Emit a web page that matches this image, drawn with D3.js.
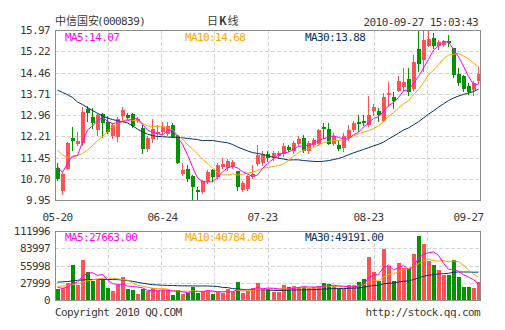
<!DOCTYPE html>
<html><head><meta charset="utf-8">
<script src="https://cdn.jsdelivr.net/npm/d3@7/dist/d3.min.js"></script>
<style>body{margin:0;background:#fff}svg{display:block}</style>
</head><body><svg id="c" width="505" height="330"></svg>
<script>
// ---- data ----
const opens  = [11.08,10.26,11.06,12.15,11.93,11.97,13.17,12.88,12.44,13.00,
12.71,12.20,12.17,12.91,12.95,12.98,12.75,12.51,11.75,12.10,
12.29,12.35,12.30,12.62,12.20,10.88,11.06,10.79,10.29,10.23,
10.59,11.00,10.76,11.13,11.08,11.17,10.96,10.29,10.35,10.76,
11.22,11.26,11.59,11.44,11.50,11.58,11.83,11.70,11.93,12.15,
11.67,11.91,11.93,12.52,12.48,11.93,11.91,11.79,12.15,12.44,
12.70,12.76,12.59,13.09,13.09,12.76,13.68,13.60,13.82,13.94,
14.23,13.89,15.31,14.92,15.39,15.69,15.39,15.45,15.57,15.33,
14.41,14.35,14.00,13.86,14.18];
const highs  = [11.27,10.90,12.00,12.54,12.37,13.24,13.27,13.21,13.03,13.03,
12.91,12.68,12.88,13.23,13.03,13.04,12.88,12.60,12.20,12.82,
12.62,12.72,12.70,12.68,12.26,11.26,11.20,10.85,10.40,10.67,
11.02,11.06,11.26,11.44,11.40,11.38,10.96,10.61,10.85,11.20,
11.89,11.67,11.67,11.67,11.70,11.97,11.91,12.03,12.20,12.24,
12.03,12.15,12.48,12.68,12.68,12.33,12.03,12.33,12.59,12.76,
12.95,12.95,13.62,13.34,13.21,13.74,14.13,13.78,14.33,14.62,
14.62,15.10,15.92,15.95,15.97,15.86,15.63,15.63,15.80,15.33,
14.63,14.39,14.09,14.15,14.65];
const lows   = [10.67,10.17,11.04,11.73,11.90,11.89,12.76,12.50,12.26,12.17,
12.32,12.14,12.03,12.79,12.83,12.53,12.70,11.60,11.68,12.02,
12.10,12.29,12.25,12.17,11.27,10.85,10.61,9.96,9.99,10.20,
10.55,10.61,10.73,11.08,11.02,11.10,10.32,10.26,10.32,10.73,
11.20,11.20,11.32,11.38,11.44,11.50,11.67,11.62,11.88,11.65,
11.62,11.85,11.88,12.15,11.93,11.88,11.73,11.68,12.09,12.40,
12.38,12.59,12.56,12.95,12.76,12.74,13.27,13.21,13.80,13.86,
13.68,13.86,14.51,14.51,15.39,15.33,15.31,15.39,15.39,14.29,
14.03,13.80,13.72,13.68,14.09];
const closes = [10.70,10.87,11.97,12.05,12.04,13.07,13.03,12.66,12.95,12.68,
12.36,12.62,12.83,13.15,12.85,12.58,12.82,11.75,12.13,12.45,
12.37,12.54,12.58,12.19,11.27,11.02,10.71,10.40,10.24,10.64,
10.94,10.76,11.18,11.22,11.32,11.28,10.41,10.55,10.79,10.88,
11.53,11.58,11.44,11.61,11.61,11.85,11.71,11.97,12.12,11.67,
11.97,12.06,12.44,12.47,11.93,12.21,11.77,12.21,12.44,12.68,
12.65,12.68,12.95,13.24,12.95,13.60,13.73,13.47,14.15,14.13,
13.76,14.84,14.77,15.63,15.65,15.42,15.55,15.57,15.51,14.39,
14.09,13.88,13.76,14.09,14.42];
const volumes = [18300,18800,26900,56500,24200,65100,45200,30700,33400,34500,
19900,14500,23700,37100,18300,16200,9200,18300,14000,19400,
14500,15600,15600,8100,16200,10200,10800,21500,11300,14500,
16200,9700,14000,11800,17200,12400,29100,11300,15100,18800,
27500,18300,17200,13500,13500,23700,21000,22600,21000,21000,
19900,21000,22600,28000,25300,22600,17200,18300,23700,23700,
29100,33400,69500,45800,30700,82900,54900,30700,60300,52200,
50600,74800,103400,91000,63500,56500,47900,39800,40400,65700,
38000,21000,21000,19500,30000];
// moving-average values before enough days are on the chart
const ma5Head  = [11.13,10.92,11.25,11.50];
const ma10Head = [11.72,11.55,11.46,11.46,11.52,11.60,11.72,11.88,12.05];
const ma30Head = [13.84,13.76,13.68,13.58,13.42,13.33,13.22,13.12,13.02,12.93,12.85,12.80,12.76,12.72,12.68,12.58,12.46,12.36,12.28,12.23,12.20,12.19,12.18,12.17,12.17,12.15,12.13,12.11,12.09];
const vma5Head  = [20500,19000,21000,27000];
const vma10Head = [22500,22500,23000,25000,26500,29000,31000,32500,34000];
const vma30Head = [29000,29500,30000,31000,32000,32500,33000,33300,33500,33500,33400,33200,33000,32500,31500,30300,28800,27300,26000,25000,24400,24000,23700,23500,23200,23000,22900,22800,22800];

const priceTicks = ["15.97","15.22","14.46","13.71","12.96","12.21","11.45","10.70","9.95"];
const volTicks = ["111996","83997","55998","27999","0"];
const dateLabels = ["05-20","06-24","07-23","08-23","09-27"];
const dateIdx = [0,21,41,62,82];
const priceLegend = ["MA5:14.07","MA10:14.68","MA30:13.88"];
const volLegend = ["MA5:27663.00","MA10:40784.00","MA30:49191.00"];
const title = "中信国安";
const code = "(000839)";
const chartName = ["日","K","线"];
const stamp = "2010-09-27 15:03:43";
const copyright = "Copyright 2010 QQ.COM";
const site = "http://stock.qq.com";

// ---- drawing ----
const RED="#ff5252", GREEN="#009400", C5="#ff00ff", C10="#ffa500", C30="#003366";
const MONO="'DejaVu Sans Mono', monospace", CJK="'Noto Sans CJK SC', sans-serif";
const svg = d3.select("#c");
const n = closes.length;
const L=55, R=480, PT=30, PB=200, VT=231, VB=300;

function ma(arr, k, head){ return arr.map((v,i)=> i < head.length ? head[i] : d3.mean(arr.slice(i-k+1,i+1))); }

const x = d3.scaleBand().domain(d3.range(n)).range([L+1, R+1]).paddingInner(0.2).paddingOuter(0);
const cx = i => Math.round(x(i)) + 1.5;
const yP = d3.scaleLinear().domain([+priceTicks[8], +priceTicks[0]]).range([PB, PT]);
const yV = d3.scaleLinear().domain([0, +volTicks[0]]).range([VB, VT]);

const g = svg.append("g");
// grid
const nCols = 8;
const gx = d3.scaleLinear().domain([0,nCols]).range([L,R]);
[[PT,PB],[VT,VB]].forEach(([t,b])=>{
  for(let k=1;k<nCols;k++){
    g.append("line").attr("x1",Math.round(gx(k))+0.5).attr("x2",Math.round(gx(k))+0.5)
     .attr("y1",t).attr("y2",b).attr("stroke","#d4d4d4").attr("stroke-dasharray","4,2");
  }
});
priceTicks.forEach((t,i)=>{
  if(i>0 && i<priceTicks.length-1)
    g.append("line").attr("x1",L).attr("x2",R).attr("y1",Math.round(yP(+t))+0.5).attr("y2",Math.round(yP(+t))+0.5)
     .attr("stroke","#d4d4d4").attr("stroke-dasharray","4,2");
});
volTicks.forEach((t,i)=>{
  if(i>0 && i<volTicks.length-1)
    g.append("line").attr("x1",L).attr("x2",R).attr("y1",Math.round(yV(+t))+0.5).attr("y2",Math.round(yV(+t))+0.5)
     .attr("stroke","#d4d4d4").attr("stroke-dasharray","4,2");
});

// candles
const idx = d3.range(n);
const col = i => closes[i] >= opens[i] ? RED : GREEN;
g.selectAll(".wick").data(idx).join("line")
  .attr("x1",cx).attr("x2",cx)
  .attr("y1",i=>Math.round(yP(highs[i]))).attr("y2",i=>Math.round(yP(lows[i]))+1)
  .attr("stroke",col).attr("stroke-width",1);
g.selectAll(".body").data(idx).join("rect")
  .attr("x",i=>Math.round(x(i))).attr("width",4)
  .attr("y",i=>Math.round(yP(Math.max(opens[i],closes[i]))))
  .attr("height",i=>Math.max(1,Math.round(yP(Math.min(opens[i],closes[i])))-Math.round(yP(Math.max(opens[i],closes[i])))))
  .attr("fill",col).attr("shape-rendering","crispEdges");

// price MAs
const pLine = d3.line().x((d,i)=>cx(i)).y(d=>yP(d));
[[ma(closes,30,ma30Head),C30],[ma(closes,10,ma10Head),C10],[ma(closes,5,ma5Head),C5]].forEach(([arr,c])=>{
  g.append("path").attr("d",pLine(arr)).attr("fill","none").attr("stroke",c).attr("stroke-width",1);
});

// volume bars
g.selectAll(".vol").data(idx).join("rect")
  .attr("x",i=>Math.round(x(i))).attr("width",4)
  .attr("y",i=>Math.round(yV(volumes[i]))).attr("height",i=>VB-Math.round(yV(volumes[i])))
  .attr("fill",col).attr("shape-rendering","crispEdges");
const vLine = d3.line().x((d,i)=>cx(i)).y(d=>yV(d));
[[ma(volumes,30,vma30Head),C30],[ma(volumes,10,vma10Head),C10],[ma(volumes,5,vma5Head),C5]].forEach(([arr,c])=>{
  g.append("path").attr("d",vLine(arr)).attr("fill","none").attr("stroke",c).attr("stroke-width",1);
});

// frames
[[PT,PB],[VT,VB]].forEach(([t,b])=>{
  g.append("rect").attr("x",L+0.5).attr("y",t+0.5).attr("width",R-L).attr("height",b-t)
   .attr("fill","none").attr("stroke","#8c8c8c").attr("stroke-width",1);
});

// text
const txt = (s,xx,yy,anchor,fill,font,size)=> svg.append("text").text(s).attr("x",xx).attr("y",yy)
  .attr("text-anchor",anchor||"start").attr("fill",fill||"#3a3a3a")
  .attr("font-family",font||MONO).attr("font-size",size||11).attr("letter-spacing", (font||MONO)===MONO ? -0.6 : 0);
priceTicks.forEach(t=> txt(t,50,Math.round(yP(+t))+4,"end"));
volTicks.forEach(t=> txt(t,50,Math.round(yV(+t))+4,"end"));
dateLabels.forEach((t,k)=> txt(t,cx(dateIdx[k]),221,"middle"));
const legX=[65,185,305], legC=[C5,C10,C30];
priceLegend.forEach((t,k)=> txt(t,legX[k],41,"start",legC[k]));
volLegend.forEach((t,k)=> txt(t,legX[k],241,"start",legC[k]));
txt(title,55,25,"start","#3a3a3a",CJK,11);
txt(code,97,25,"start");
const tn = svg.append("text").attr("x",207).attr("y",25).attr("font-family",CJK).attr("font-size",11).attr("fill","#3a3a3a").attr("letter-spacing",1);
chartName.forEach((c,k)=> tn.append("tspan").text(c).attr("font-weight",k===1?"bold":"normal"));
txt(stamp,478,26,"end");
txt(copyright,55,316,"start");
txt(site,480,316,"end");
</script></body></html>
